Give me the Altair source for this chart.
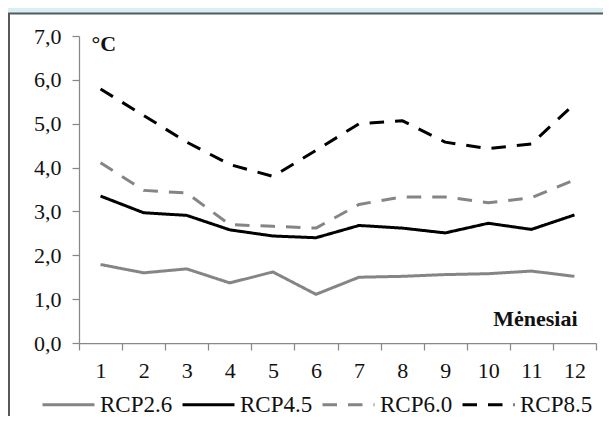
import altair as alt
import pandas as pd

months = list(range(1, 13))
series_names = ["RCP2.6", "RCP4.5", "RCP6.0", "RCP8.5"]
rcp26 = [1.79, 1.60, 1.69, 1.37, 1.62, 1.11, 1.50, 1.52, 1.56, 1.58, 1.64, 1.52]
rcp45 = [3.35, 2.97, 2.91, 2.58, 2.44, 2.40, 2.68, 2.62, 2.51, 2.73, 2.59, 2.92]
rcp60 = [4.11, 3.48, 3.42, 2.70, 2.66, 2.62, 3.16, 3.33, 3.33, 3.20, 3.31, 3.72]
rcp85 = [5.79, 5.19, 4.58, 4.07, 3.80, 4.39, 5.00, 5.07, 4.58, 4.43, 4.54, 5.45]
y_ticks = [0, 1, 2, 3, 4, 5, 6, 7]

rows = []
for name, vals in zip(series_names, [rcp26, rcp45, rcp60, rcp85]):
    for m, v in zip(months, vals):
        rows.append({"Scenarijus": name, "Mėnuo": m, "Temp": v})
df = pd.DataFrame(rows)

FONT = "Liberation Serif, Times New Roman, serif"
W, H = 517, 307

panel = alt.Chart(pd.DataFrame({"a": [0]})).mark_rect(
    fill="white", stroke="#555b5c", strokeWidth=2
).encode(
    x=alt.value(-70), x2=alt.value(W + 40),
    y=alt.value(-22.5), y2=alt.value(H + 120)
)

lines = alt.Chart(df).mark_line(strokeWidth=3, strokeJoin="round").encode(
    x=alt.X("Mėnuo:O",
            scale=alt.Scale(type="band", paddingInner=0, paddingOuter=0),
            axis=alt.Axis(title="Mėnesiai", titleFont=FONT, titleFontSize=22,
                          titleFontWeight="bold", titleColor="#111",
                          titleAlign="right", titleBaseline="alphabetic",
                          titleX=498, titleY=-18, titleAnchor="end",
                          labelAngle=0, labelFont=FONT, labelFontSize=22,
                          labelColor="#111", labelPadding=10,
                          tickBand="extent", tickSize=7, tickColor="#888",
                          tickWidth=1.25, domainColor="#888", domainWidth=1.25,
                          zindex=1)),
    y=alt.Y("Temp:Q",
            scale=alt.Scale(domain=[0, 7], nice=False, zero=True),
            axis=alt.Axis(title="°C", titleAngle=0, titleFont=FONT,
                          titleFontSize=22, titleFontWeight="bold",
                          titleColor="#111", titleAlign="left",
                          titleBaseline="alphabetic", titleX=12, titleY=14,
                          values=y_ticks, grid=False,
                          labelExpr="replace(format(datum.value, '.1f'), '.', ',')",
                          labelFont=FONT, labelFontSize=22, labelColor="#111",
                          labelPadding=11, tickSize=7, tickColor="#888",
                          tickWidth=1.25, domainColor="#888", domainWidth=1.25,
                          zindex=1)),
    color=alt.Color("Scenarijus:N",
                    scale=alt.Scale(domain=series_names,
                                    range=["#858585", "#000000", "#858585", "#000000"]),
                    legend=alt.Legend(title=None, orient="none", legendX=-38,
                                      legendY=341, direction="horizontal",
                                      symbolType="stroke", symbolSize=2704,
                                      symbolStrokeWidth=3, labelFont=FONT,
                                      labelFontSize=23, labelColor="#111",
                                      labelOffset=4, columnPadding=3,
                                      padding=0)),
    strokeDash=alt.StrokeDash("Scenarijus:N",
                              scale=alt.Scale(domain=series_names,
                                              range=[[1, 0], [1, 0], [14.5, 11], [14.5, 11]]),
                              legend=alt.Legend(title=None)),
    order="Mėnuo:O",
)

chart = alt.layer(panel, lines).properties(
    width=W, height=H,
    background="#DAEEF3",
    padding={"left": 71, "top": 28, "right": 7, "bottom": 73},
    autosize=alt.AutoSizeParams(type="none"),
).configure_view(stroke=None)

chart.save("out.html", embed_options={"renderer": "svg", "actions": False})
